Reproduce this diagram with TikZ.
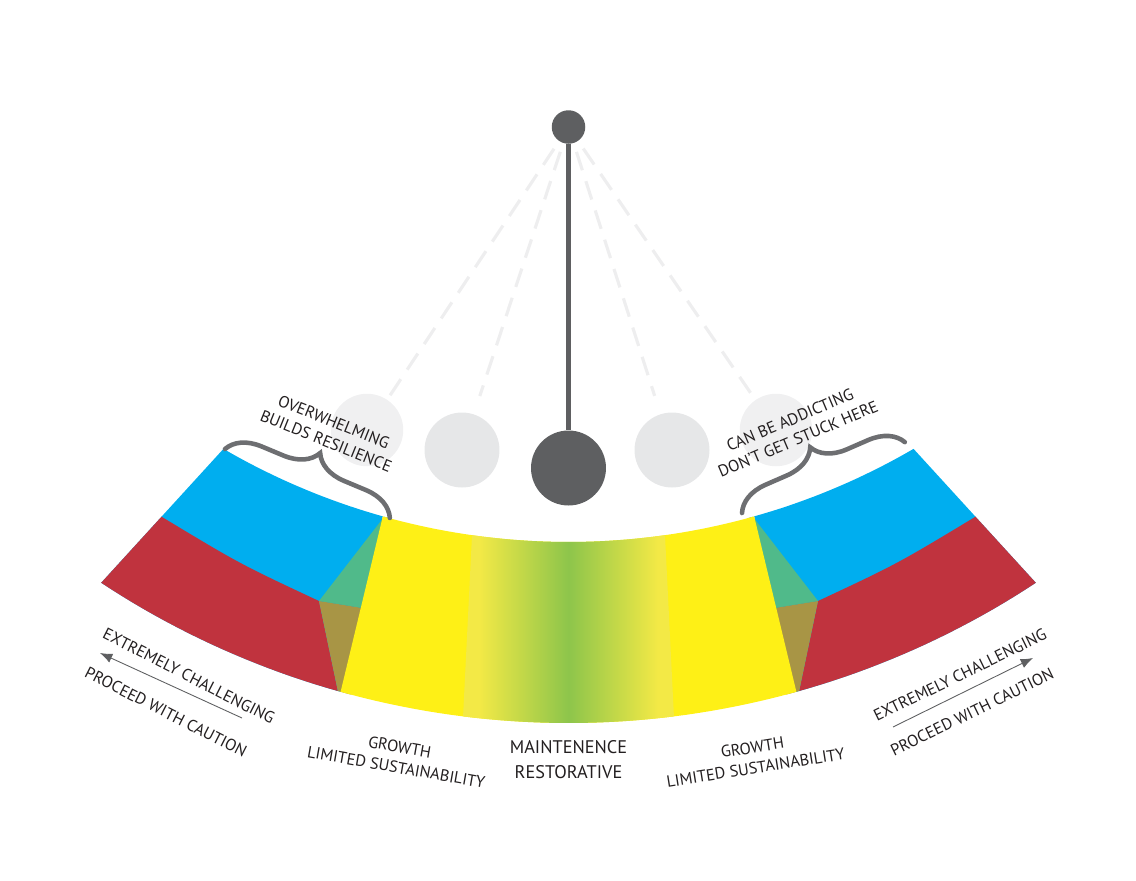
\documentclass[tikz,border=0pt]{standalone}
\usepackage{fontspec}
\setmainfont{PT Sans}
\usepackage{tikz}
\usetikzlibrary{arrows.meta,decorations.pathreplacing}
\definecolor{bandred}{HTML}{C0333E}
\definecolor{bandblue}{HTML}{00AEEF}
\definecolor{bandteal}{HTML}{50BA8A}
\definecolor{bandolive}{HTML}{A89545}
\definecolor{bandyellow}{HTML}{FEF016}
\definecolor{paleyellow}{HTML}{F3E946}
\definecolor{midgreen}{HTML}{8DC54B}
\definecolor{pendgray}{HTML}{5E5F61}
\definecolor{bracegray}{HTML}{6D6E71}
\definecolor{ghostgray}{HTML}{E6E7E8}
\definecolor{ghostlight}{HTML}{F0F0F1}
\definecolor{dashgray}{HTML}{EEEEEF}
\definecolor{inkgray}{HTML}{231F20}
\pgfdeclarehorizontalshading{midband}{100bp}{color(0bp)=(paleyellow); color(25bp)=(paleyellow); color(29bp)=(paleyellow); color(50bp)=(midgreen); color(71bp)=(paleyellow); color(75bp)=(paleyellow); color(100bp)=(paleyellow)}

\begin{document}
\begin{tikzpicture}[x=0.02cm, y=-0.02cm, >=Latex,
  lbl/.style={font=\fontsize{9.3}{11.7}\selectfont, text=inkgray, align=center, inner sep=0pt},
  weight/.style={circle, fill=pendgray, inner sep=0pt, minimum size=1.5cm},
  ghost/.style={circle, fill=ghostgray, inner sep=0pt, minimum size=1.5cm},
  swing/.style={draw=dashgray, line width=1.8pt, dash pattern=on 11pt off 6.5pt},
  curly/.style={decorate, decoration={brace, amplitude=0.66cm}, draw=bracegray, line width=2.6pt, line cap=round},
  pointer/.style={-{Latex[length=7pt,width=5.5pt]}, draw=pendgray, line width=0.5pt}]
  \useasboundingbox (0,0) rectangle (1136,880);

  % pendulum
  \node[weight, minimum size=0.67cm] (pivot) at (568.5,127) {};
  \node[ghost, fill=ghostlight, minimum size=1.45cm] (swingL2) at (367,430) {};
  \node[ghost] (swingL1) at (462,450) {};
  \node[ghost] (swingR1) at (672,450) {};
  \node[ghost, fill=ghostlight, minimum size=1.45cm] (swingR2) at (776,430) {};
  \node[weight] (bob) at (568.5,468) {};
  \foreach \g/\e in {swingL2/0.02cm, swingL1/0.38cm, swingR1/0.38cm, swingR2/0.02cm}
    \draw[swing, shorten <=0.18cm, shorten >=\e] (pivot) -- (\g);
  \draw[pendgray, line width=2.5pt] (pivot) -- (bob);

  % band
  \begin{scope}
    \clip plot[domain=120.2:59.8, samples=80] ({568.5+686*cos(\x)}, {-144+686*sin(\x)})
      -- plot[domain=56.6:123.4, samples=80] ({568.5+849*cos(\x)}, {-126+849*sin(\x)}) -- cycle;
    \foreach \s in {1,-1} {
      \begin{scope}[shift={(568.5,0)}, xscale=\s, shift={(-568.5,0)}]
        \fill[bandblue] (40,400) -- (406,420) -- (329,740) -- (40,740) -- cycle;
        \fill[bandred] (62,458) -- (162,517) .. controls (240,564) .. (319,601) -- (346,730) -- (40,730) -- (40,458) -- cycle;
        \fill[bandteal] (319,601) -- (394,504) -- (362,608) -- cycle;
        \fill[bandolive] (319,601) -- (362,608) -- (346,730) -- cycle;
      \end{scope}
    }
    \fill[bandyellow] (406,420) -- (329,740) -- (808,740) -- (731,420) -- cycle;
    \shade[shading=midband] (477.7,420) -- (461.9,740) -- (675.1,740) -- (659.3,420) -- cycle;
  \end{scope}

  % braces
  \coordinate (braceLa) at (225,449);
  \coordinate (braceLb) at (390,518);
  \coordinate (braceRa) at (742,513);
  \coordinate (braceRb) at (905,442);
  \draw[curly] (braceLa) -- (braceLb);
  \draw[curly] (braceRa) -- (braceRb);

  % labels
  \node[lbl, rotate=-22] (overwhelm) at (330,431.5) {OVERWHELMING\\BUILDS RESILIENCE};
  \node[lbl, rotate=23] (addict) at (794,429.5) {CAN BE ADDICTING\\DON'T GET STUCK HERE};
  \node[lbl, font=\fontsize{10.4}{14.2}\selectfont] (maint) at (568.5,759.5) {MAINTENENCE\\RESTORATIVE};
  \node[lbl, rotate=-10] (growthL) at (398,757) {GROWTH\\LIMITED SUSTAINABILITY};
  \node[lbl, rotate=9] (growthR) at (754,757.5) {GROWTH\\LIMITED SUSTAINABILITY};
  \node[lbl, rotate=-27] (extremeL) at (189,676) {EXTREMELY CHALLENGING};
  \node[lbl, rotate=-27] (cautionL) at (166,712) {PROCEED WITH CAUTION};
  \node[lbl, rotate=26] (extremeR) at (960,675) {EXTREMELY CHALLENGING};
  \node[lbl, rotate=26] (cautionR) at (972,712) {PROCEED WITH CAUTION};
  \coordinate (arrowLa) at (242,718);
  \coordinate (arrowLb) at (100,653);
  \coordinate (arrowRa) at (893,727);
  \coordinate (arrowRb) at (1033,658);
  \draw[pointer] (arrowLa) -- (arrowLb);
  \draw[pointer] (arrowRa) -- (arrowRb);
\end{tikzpicture}
\end{document}
